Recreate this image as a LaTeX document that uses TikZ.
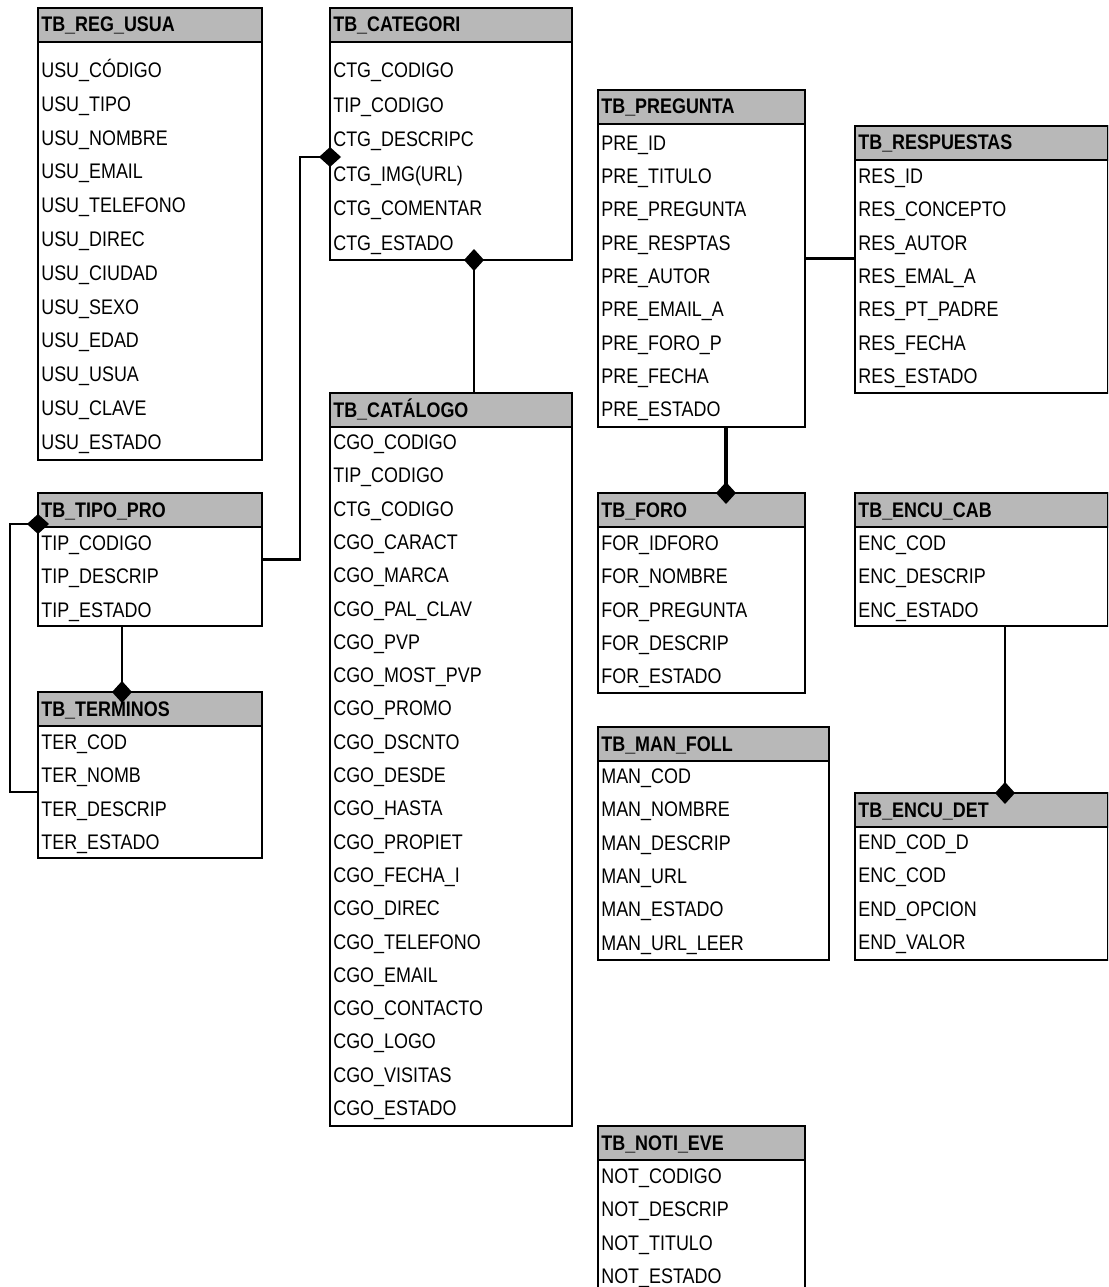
\documentclass[tikz,border=0pt]{standalone}
\usepackage{fontspec}
\setmainfont{Liberation Sans}[FakeStretch=0.85]
\usetikzlibrary{calc,arrows.meta}

\tikzset{
  tabla/.style={draw,line width=1.1pt,inner sep=0pt,outer sep=0pt},
  cab/.style={draw,fill=black!28,line width=1.3pt},
  titulo/.style={inner sep=0pt,font=\fontsize{12}{14}\selectfont\bfseries},
  campo/.style={inner sep=0pt,font=\fontsize{12}{14}\selectfont},
  rel/.style={line width=1.2pt},
  dfin/.style={-{Diamond[length=0.44cm,width=0.4cm]},shorten >=-0.22cm},
  dini/.style={{Diamond[length=0.44cm,width=0.4cm]}-,shorten <=-0.22cm}
}

% #1 nombre, #2 x, #3 y, #4 ancho, #5 alto, #6 primera fila, #7 paso, #8 titulo, #9 campos
\newcommand{\tabla}[9]{%
  \node[tabla,minimum width=#4*0.02cm,minimum height=#5*0.02cm,anchor=north west] (#1) at (#2,#3) {};
  \draw[cab] (#1.north west) rectangle ++(#4,34);
  \node[titulo,anchor=base west] (#1-t) at ($(#1.north west)+(3,24)$) {#8};
  \foreach \c [count=\i from 0] in {#9}
    \node[campo,anchor=base west] (#1-\i) at ($(#1.north west)+(3,#6+7.5+\i*#7)$) {\c};
}

\begin{document}
\begin{tikzpicture}[x=0.02cm,y=-0.02cm]
%\draw[help lines,step=100] (0,0) grid (1108,1287);
\useasboundingbox (0,0) rectangle (1108,1287);
\clip (0,0) rectangle (1108,1287);

\tabla{regusua}{38}{8}{224}{452}{62}{33.8}{TB\_REG\_USUA}
  {USU\_CÓDIGO,USU\_TIPO,USU\_NOMBRE,USU\_EMAIL,USU\_TELEFONO,USU\_DIREC,USU\_CIUDAD,USU\_SEXO,USU\_EDAD,USU\_USUA,USU\_CLAVE,USU\_ESTADO}
\tabla{categori}{330}{8}{242}{252}{62}{34.6}{TB\_CATEGORI}
  {CTG\_CODIGO,TIP\_CODIGO,CTG\_DESCRIPC,CTG\_IMG(URL),CTG\_COMENTAR,CTG\_ESTADO}
\tabla{pregunta}{598}{90}{207}{337}{53}{33.25}{TB\_PREGUNTA}
  {PRE\_ID,PRE\_TITULO,PRE\_PREGUNTA,PRE\_RESPTAS,PRE\_AUTOR,PRE\_EMAIL\_A,PRE\_FORO\_P,PRE\_FECHA,PRE\_ESTADO}
\tabla{respuestas}{855}{126}{253}{267}{50}{33.3}{TB\_RESPUESTAS}
  {RES\_ID,RES\_CONCEPTO,RES\_AUTOR,RES\_EMAL\_A,RES\_PT\_PADRE,RES\_FECHA,RES\_ESTADO}
\tabla{catalogo}{330}{393}{242}{733}{49}{33.3}{TB\_CATÁLOGO}
  {CGO\_CODIGO,TIP\_CODIGO,CTG\_CODIGO,CGO\_CARACT,CGO\_MARCA,CGO\_PAL\_CLAV,CGO\_PVP,CGO\_MOST\_PVP,CGO\_PROMO,CGO\_DSCNTO,CGO\_DESDE,CGO\_HASTA,CGO\_PROPIET,CGO\_FECHA\_I,CGO\_DIREC,CGO\_TELEFONO,CGO\_EMAIL,CGO\_CONTACTO,CGO\_LOGO,CGO\_VISITAS,CGO\_ESTADO}
\tabla{tipo}{38}{493}{224}{133}{50}{33.3}{TB\_TIPO\_PRO}
  {TIP\_CODIGO,TIP\_DESCRIP,TIP\_ESTADO}
\tabla{terminos}{38}{692}{224}{166}{50}{33.3}{TB\_TERMINOS}
  {TER\_COD,TER\_NOMB,TER\_DESCRIP,TER\_ESTADO}
\tabla{foro}{598}{493}{207}{200}{50}{33.3}{TB\_FORO}
  {FOR\_IDFORO,FOR\_NOMBRE,FOR\_PREGUNTA,FOR\_DESCRIP,FOR\_ESTADO}
\tabla{encab}{855}{493}{253}{133}{50}{33.3}{TB\_ENCU\_CAB}
  {ENC\_COD,ENC\_DESCRIP,ENC\_ESTADO}
\tabla{manfoll}{598}{727}{231}{233}{49}{33.3}{TB\_MAN\_FOLL}
  {MAN\_COD,MAN\_NOMBRE,MAN\_DESCRIP,MAN\_URL,MAN\_ESTADO,MAN\_URL\_LEER}
\tabla{endet}{855}{793}{253}{167}{49}{33.3}{TB\_ENCU\_DET}
  {END\_COD\_D,ENC\_COD,END\_OPCION,END\_VALOR}
\tabla{notieve}{598}{1126}{207}{175}{50}{33.3}{TB\_NOTI\_EVE}
  {NOT\_CODIGO,NOT\_DESCRIP,NOT\_TITULO,NOT\_ESTADO}

% relaciones
\coordinate (r1) at ($(categori.north west)+(0,149)$);
\draw[rel,dfin] (tipo.east) -- ++(38,0) |- (r1);
\coordinate (r2) at ($(categori.south west)+(144,0)$);
\draw[rel,dini,line width=1.5pt] (r2) -- (r2 |- catalogo.north);
\coordinate (r3) at ($(tipo.south west)+(84,0)$);
\draw[rel,dfin] (r3) -- (r3 |- terminos.north);
\coordinate (r4) at ($(tipo.north west)+(0,31)$);
\draw[rel,dini] (r4) -- ++(-28,0) |- ($(terminos.north west)+(0,100)$);
\coordinate (r5) at ($(pregunta.south west)+(128,0)$);
\draw[rel,dfin,line width=2.2pt] (r5) -- (r5 |- foro.north);
\draw[rel] (pregunta.east) -- (pregunta.east -| respuestas.west);
\coordinate (r7) at ($(encab.south west)+(150,0)$);
\draw[rel,dfin] (r7) -- (r7 |- endet.north);
\end{tikzpicture}
\end{document}
